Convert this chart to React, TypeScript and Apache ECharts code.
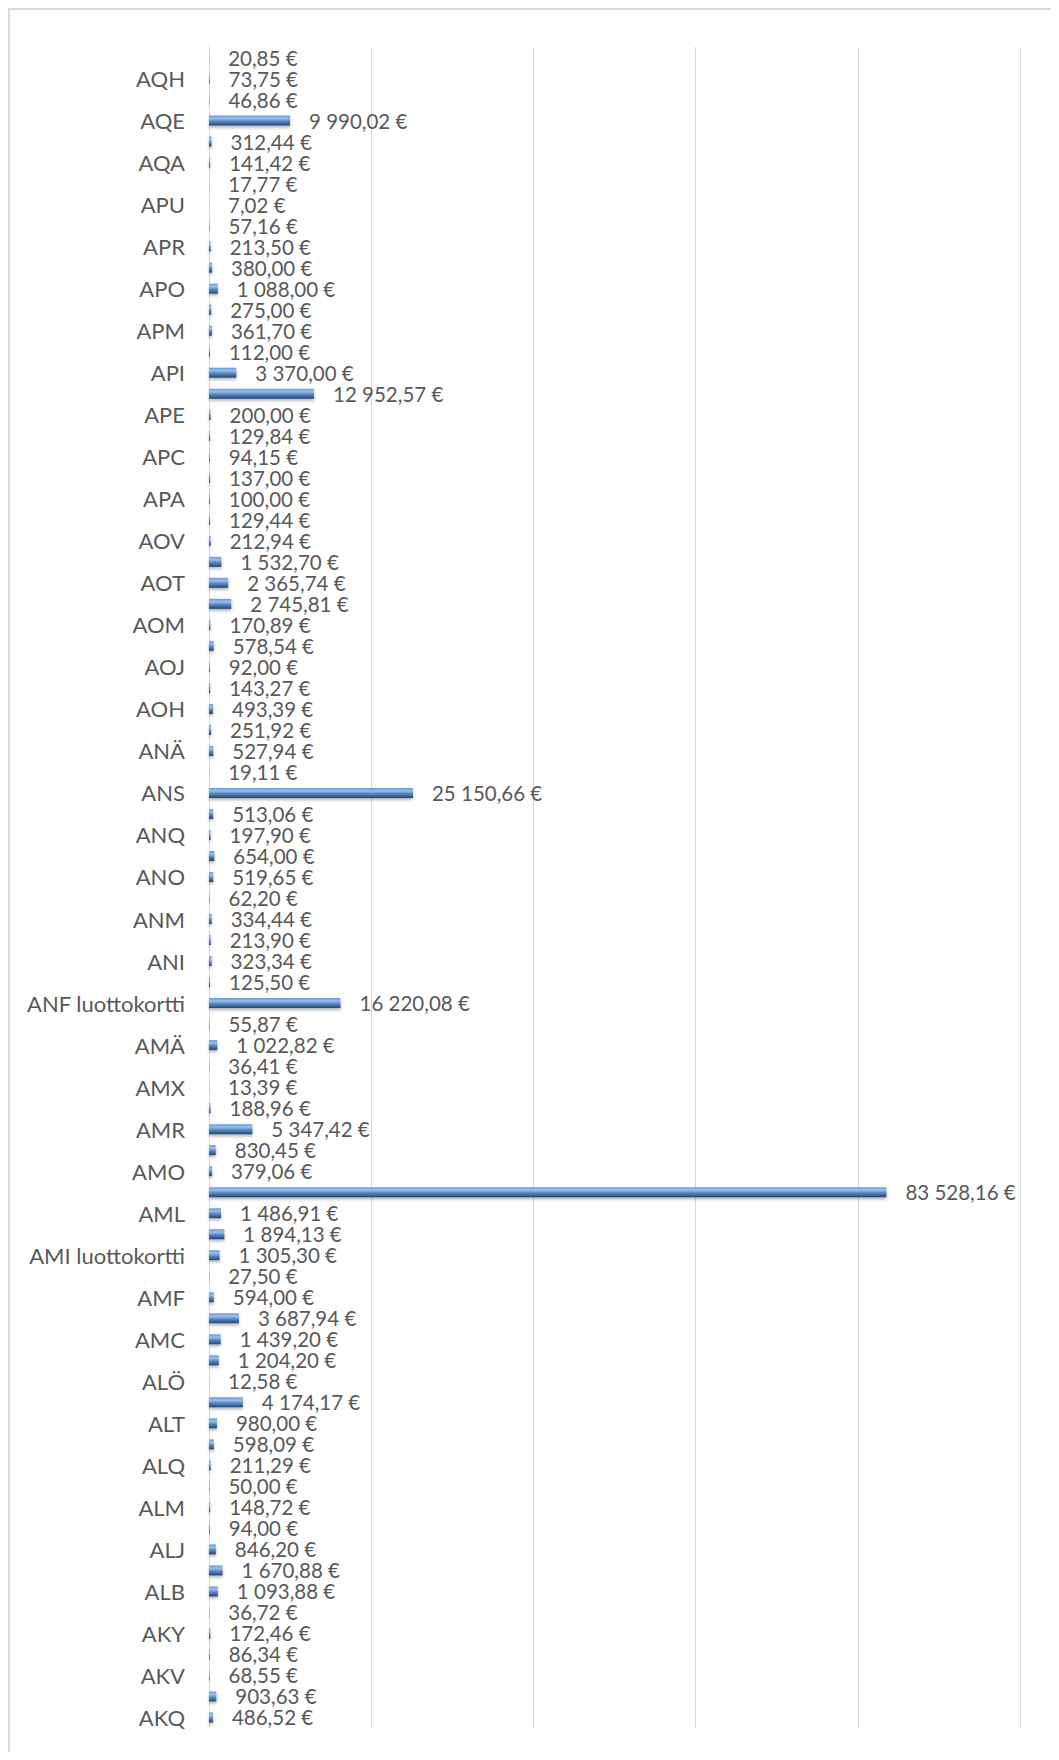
import React, { useEffect, useRef } from "react";
import * as echarts from "echarts";

// Categories listed bottom-to-top (index 0 is the bottom bar)
const categories: string[] = [
  "AKQ", "AKS", "AKV", "AKX", "AKY", "ALA", "ALB", "ALH", "ALJ", "ALK",
  "ALM", "ALP", "ALQ", "ALS", "ALT", "ALY", "ALÖ", "AMB", "AMC", "AME",
  "AMF", "AMH", "AMI luottokortti", "AMK", "AML", "AMN", "AMO", "AMP", "AMR", "AMU",
  "AMX", "AMY", "AMÄ", "ANE", "ANF luottokortti", "ANH", "ANI", "ANL", "ANM", "ANN",
  "ANO", "ANP", "ANQ", "ANR", "ANS", "ANT", "ANÄ", "AOG", "AOH", "AOI",
  "AOJ", "AOL", "AOM", "AOS", "AOT", "AOU", "AOV", "AOÖ", "APA", "APB",
  "APC", "APD", "APE", "APH", "API", "APL", "APM", "APN", "APO", "APQ",
  "APR", "APS", "APU", "APY", "AQA", "AQD", "AQE", "AQF", "AQH", "AQI",
];

const values: number[] = [
  486.52, 903.63, 68.55, 86.34, 172.46, 36.72, 1093.88, 1670.88, 846.2, 94.0,
  148.72, 50.0, 211.29, 598.09, 980.0, 4174.17, 12.58, 1204.2, 1439.2, 3687.94,
  594.0, 27.5, 1305.3, 1894.13, 1486.91, 83528.16, 379.06, 830.45, 5347.42, 188.96,
  13.39, 36.41, 1022.82, 55.87, 16220.08, 125.5, 323.34, 213.9, 334.44, 62.2,
  519.65, 654.0, 197.9, 513.06, 25150.66, 19.11, 527.94, 251.92, 493.39, 143.27,
  92.0, 578.54, 170.89, 2745.81, 2365.74, 1532.7, 212.94, 129.44, 100.0, 137.0,
  94.15, 129.84, 200.0, 12952.57, 3370.0, 112.0, 361.7, 275.0, 1088.0, 380.0,
  213.5, 57.16, 7.02, 17.77, 141.42, 312.44, 9990.02, 46.86, 73.75, 20.85,
];

const xMin = 0;
const xMax = 100000;
const xInterval = 20000;

function formatEuro(v: number): string {
  const fixed = v.toFixed(2);
  const [intPart, dec] = fixed.split(".");
  const grouped = intPart.replace(/\B(?=(\d{3})+(?!\d))/g, " ");
  return grouped + "," + dec + " €";
}

export default function App() {
  const ref = useRef<HTMLDivElement>(null);
  useEffect(() => {
    if (!ref.current) return;
    const chart = echarts.init(ref.current, null, { renderer: "svg" });
    const font = "Lato, 'Open Sans', sans-serif";
    chart.setOption({
      animation: false,
      grid: { left: 199, right: 31, top: 37, bottom: 24, containLabel: false },
      xAxis: {
        type: "value",
        min: xMin,
        max: xMax,
        interval: xInterval,
        axisLabel: { show: false },
        axisLine: { show: false },
        axisTick: { show: false },
        splitLine: { show: true, lineStyle: { color: "#d9d9d9", width: 1 } },
      },
      yAxis: {
        type: "category",
        data: categories,
        axisLine: { show: true, lineStyle: { color: "#d9d9d9", width: 1 } },
        axisTick: { show: false },
        axisLabel: {
          interval: 1,
          color: "#595959",
          fontSize: 22,
          fontFamily: font,
          margin: 24,
        },
      },
      series: [
        {
          type: "bar",
          data: values,
          barWidth: 10,
          itemStyle: {
            color: new echarts.graphic.LinearGradient(0, 0, 0, 1, [
              { offset: 0, color: "#6b9ad6" },
              { offset: 0.3, color: "#94bff0" },
              { offset: 0.55, color: "#5a8ccc" },
              { offset: 1, color: "#25446e" },
            ]),
            shadowColor: "rgba(0,0,0,0.3)",
            shadowBlur: 3,
            shadowOffsetY: 2,
          },
          label: {
            show: true,
            position: "right",
            distance: 19,
            color: "#595959",
            fontSize: 20.5,
            lineHeight: 20,
            fontFamily: font,
            formatter: (p: any) => formatEuro(p.value),
          },
        },
      ],
    });
    return () => chart.dispose();
  }, []);

  return (
    <div
      style={{
        width: 1043,
        height: 1744,
        borderTop: "2px solid #d9d9d9",
        borderLeft: "2px solid #d9d9d9",
        boxSizing: "border-box",
        background: "#fff",
      }}
    >
      <div ref={ref} style={{ width: 1041, height: 1742 }} />
    </div>
  );
}
